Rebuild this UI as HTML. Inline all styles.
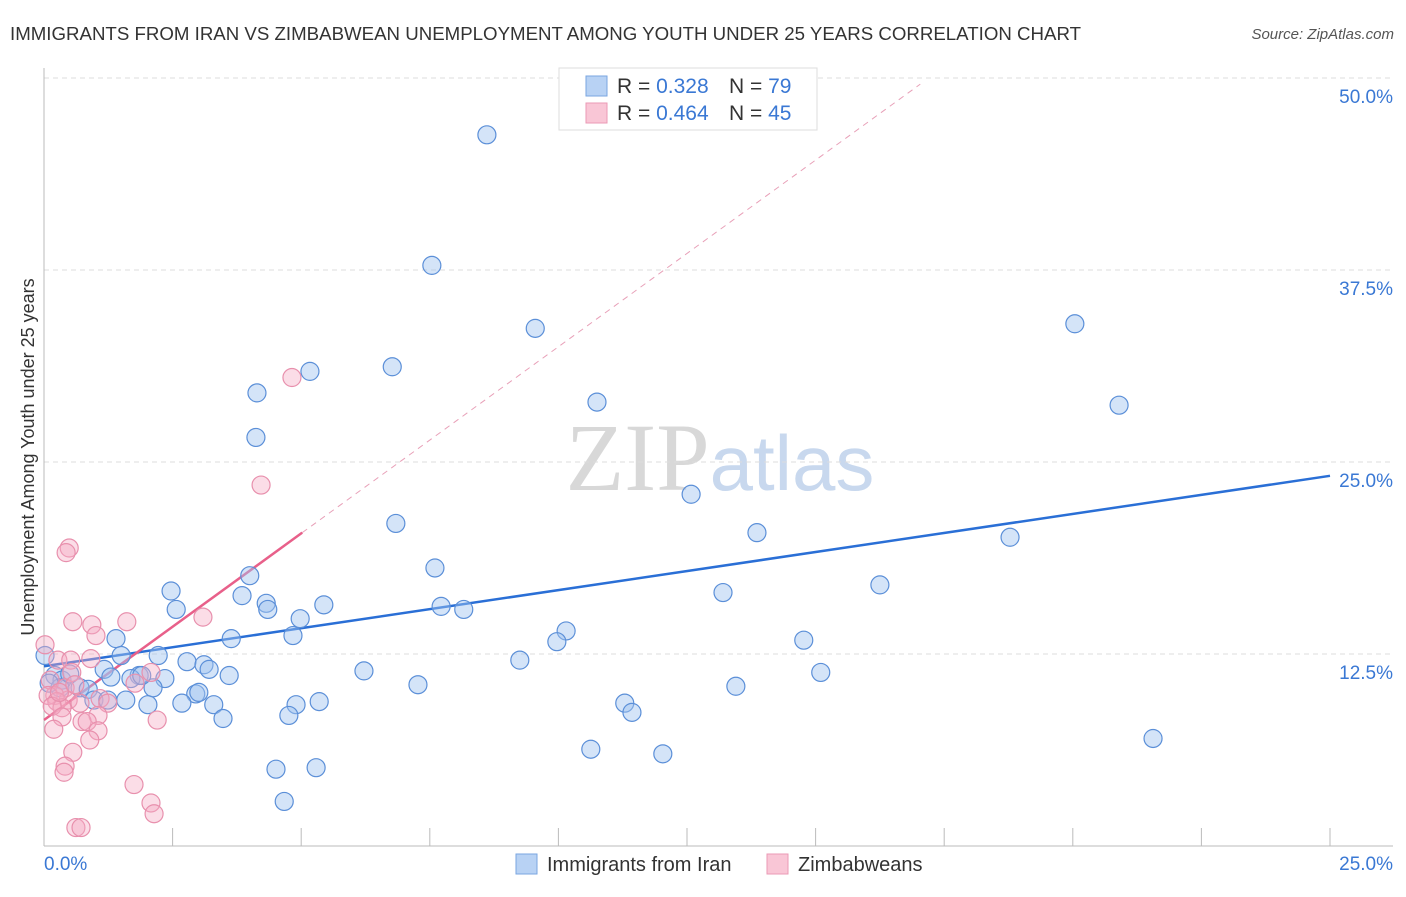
<!DOCTYPE html>
<html><head><meta charset="utf-8"><style>
body{margin:0;background:#fff;font-family:"Liberation Sans",sans-serif;}
svg text{font-family:"Liberation Sans",sans-serif;}
</style></head><body>
<svg id="chart" width="1406" height="892" xmlns="http://www.w3.org/2000/svg">
<text x="10" y="40" font-size="18.5" fill="#333" textLength="1071" lengthAdjust="spacingAndGlyphs">IMMIGRANTS FROM IRAN VS ZIMBABWEAN UNEMPLOYMENT AMONG YOUTH UNDER 25 YEARS CORRELATION CHART</text>
<text x="1394" y="39" font-size="15" fill="#555" font-style="italic" text-anchor="end">Source: ZipAtlas.com</text>
<text x="720" y="490" font-size="96" fill="#d8d8d8" text-anchor="middle" font-family="Liberation Serif"><tspan font-family="Liberation Serif">ZIP</tspan><tspan fill="#c8d8ee" font-family="Liberation Sans" font-size="78">atlas</tspan></text>
<g id="grid"></g>
<g id="axes"></g>
<g id="trend"></g>
<g id="pts"></g>
<text transform="translate(34,457) rotate(-90)" font-size="18" fill="#333" text-anchor="middle">Unemployment Among Youth under 25 years</text>
<g>
<rect x="559" y="68" width="258" height="62" fill="#fff" stroke="#ddd"/>
<rect x="586" y="76" width="21" height="20" fill="#b8d2f4" stroke="#7aa6e0"/>
<rect x="586" y="103" width="21" height="20" fill="#f9c6d6" stroke="#eb9ab5"/>
<text x="617" y="93" font-size="21" fill="#333">R = <tspan fill="#3a78d4">0.328</tspan></text>
<text x="729" y="93" font-size="21" fill="#333">N = <tspan fill="#3a78d4">79</tspan></text>
<text x="617" y="120" font-size="21" fill="#333">R = <tspan fill="#3a78d4">0.464</tspan></text>
<text x="729" y="120" font-size="21" fill="#333">N = <tspan fill="#3a78d4">45</tspan></text>
</g>
<g>
<rect x="516" y="854" width="21" height="20" fill="#b8d2f4" stroke="#7aa6e0"/>
<text x="547" y="871" font-size="20" fill="#333">Immigrants from Iran</text>
<rect x="767" y="854" width="21" height="20" fill="#f9c6d6" stroke="#eb9ab5"/>
<text x="798" y="871" font-size="20" fill="#333">Zimbabweans</text>
</g>
</svg>
<script>
const xTicks=[0,2.5,5,7.5,10,12.5,15,17.5,20,22.5,25];
const yTicks=[12.5,25,37.5,50];
const yTickLabels=["12.5%","25.0%","37.5%","50.0%"];
const xEndLabels=["0.0%","25.0%"];
const iranX=[8.61,7.54,9.55,6.77,5.17,4.14,10.75,4.12,20.04,20.9,12.58,6.84,13.86,18.78,7.6,4.0,16.25,2.47,13.2,3.85,4.32,2.57,5.44,4.35,7.72,8.16,4.98,10.15,1.4,3.64,4.84,9.97,14.77,1.5,2.22,2.78,3.11,9.25,1.17,3.21,6.22,15.1,1.85,1.69,2.35,3.6,0.21,0.35,0.02,0.31,0.7,0.86,2.12,7.27,13.45,2.95,3.01,0.97,1.24,1.59,2.68,2.02,4.9,5.35,3.3,11.29,11.43,4.76,3.48,21.56,10.63,12.03,4.51,5.29,4.67,0.5,1.3,1.9,0.1];
const iranY=[46.3,37.8,33.7,31.2,30.9,29.5,28.9,26.6,34.0,28.7,22.9,21.0,20.4,20.1,18.1,17.6,17.0,16.6,16.5,16.3,15.8,15.4,15.7,15.4,15.6,15.4,14.8,14.0,13.5,13.5,13.7,13.3,13.4,12.4,12.4,12.0,11.8,12.1,11.5,11.5,11.4,11.3,11.1,10.9,10.9,11.1,11.1,10.8,12.4,10.3,10.3,10.2,10.3,10.5,10.4,9.9,10.0,9.5,9.5,9.5,9.3,9.2,9.2,9.4,9.2,9.3,8.7,8.5,8.3,7.0,6.3,6.0,5.0,5.1,2.9,11.2,11.0,11.1,10.6];
const zimX=[4.82,4.22,0.49,0.43,3.09,0.56,0.93,1.61,1.01,0.02,0.27,0.91,0.52,2.08,0.54,0.12,0.41,0.21,0.08,1.09,0.47,0.25,1.24,0.35,0.16,0.7,1.05,0.35,0.74,0.84,2.2,0.19,1.05,0.89,0.56,0.41,0.39,1.75,2.08,2.14,0.62,0.72,1.77,0.3,0.6];
const zimY=[30.5,23.5,19.4,19.1,14.9,14.6,14.4,14.6,13.7,13.1,12.1,12.2,12.1,11.3,11.3,10.8,10.3,9.8,9.8,9.6,9.5,9.4,9.3,9.0,9.1,9.3,8.5,8.4,8.1,8.1,8.2,7.6,7.5,6.9,6.1,5.2,4.8,4.0,2.8,2.1,1.2,1.2,10.6,10.0,10.5];
const iranTrend=[11.7,24.1]; // y at x=0 and x=25
const zimTrend=[8.2,20.4,5.02]; // y at 0, y at end, end x
const NS="http://www.w3.org/2000/svg";
const X=v=>44+v/25*1286, Y=v=>846-v/12.5*192;
function mk(tag,attrs,parent){const e=document.createElementNS(NS,tag);for(const k in attrs)e.setAttribute(k,attrs[k]);document.getElementById(parent).appendChild(e);return e;}
yTicks.forEach((t,i)=>{
 const l=mk('line',{x1:44,x2:1393,y1:Y(t),y2:Y(t),stroke:'#ddd','stroke-dasharray':'5,4'},'grid');
 
 
 const tx=mk('text',{x:1393,y:Y(t)+25,'font-size':19,fill:'#3a78d4','text-anchor':'end'},'axes');
 tx.textContent=yTickLabels[i];
 
 
});
const ax=mk('line',{x1:44,x2:1393,y1:846,y2:846,stroke:'#bbb'},'axes');


const ay=mk('line',{x1:44,x2:44,y1:68,y2:846,stroke:'#bbb'},'axes');


xTicks.forEach(t=>{
 const l=mk('line',{x1:X(t),x2:X(t),y1:828,y2:846,stroke:'#bbb'},'axes');
 
 
});
[[0,'start'],[25,'end']].forEach((p,i)=>{
 const tx=mk('text',{x:i?1393:44,y:870,'font-size':19,fill:'#3a78d4','text-anchor':p[1]},'axes');
 tx.textContent=xEndLabels[i];
 
 
});
iranX.forEach((v,i)=>{
 const c=mk('circle',{cx:X(v),cy:Y(iranY[i]),r:9,fill:'rgba(160,195,240,0.45)',stroke:'#5b8fd8','stroke-width':1.2},'pts');
 
 
});
zimX.forEach((v,i)=>{
 const c=mk('circle',{cx:X(v),cy:Y(zimY[i]),r:9,fill:'rgba(245,170,195,0.4)',stroke:'#e890ad','stroke-width':1.2},'pts');
 
 
});
const bl=mk('line',{x1:X(0),y1:Y(iranTrend[0]),x2:X(25),y2:Y(iranTrend[1]),stroke:'#2a6fd6','stroke-width':2.5},'trend');


const slope=(zimTrend[1]-zimTrend[0])/zimTrend[2];
const xEnd=(49.6-zimTrend[0])/slope;
const pd=mk('line',{x1:X(zimTrend[2]),y1:Y(zimTrend[1]),x2:X(xEnd),y2:Y(49.6),stroke:'#e8a0b8','stroke-width':1,'stroke-dasharray':'6,5'},'trend');


const pl=mk('line',{x1:X(0),y1:Y(zimTrend[0]),x2:X(zimTrend[2]),y2:Y(zimTrend[1]),stroke:'#e8608a','stroke-width':2.5},'trend');


</script>
</body></html>
